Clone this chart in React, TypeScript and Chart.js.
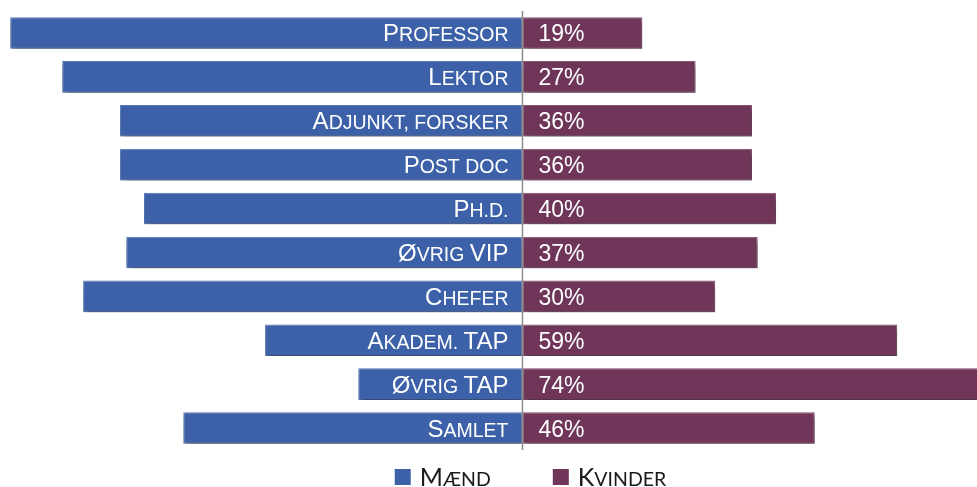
import { useEffect, useRef } from "react";
import { Chart, registerables } from "chart.js";

Chart.register(...registerables);

const categories = [
  "Professor",
  "Lektor",
  "Adjunkt, forsker",
  "Post doc",
  "Ph.d.",
  "Øvrig VIP",
  "Chefer",
  "Akadem. TAP",
  "Øvrig TAP",
  "Samlet",
];
const menShare = [80.8, 72.6, 63.5, 63.5, 59.7, 62.5, 69.3, 40.6, 25.9, 53.5];
const womenShare = [18.9, 27.3, 36.2, 36.2, 40.0, 37.1, 30.4, 59.1, 74, 46.1];
const womenLabels = ["19%", "27%", "36%", "36%", "40%", "37%", "30%", "59%", "74%", "46%"];
const seriesNames = ["Mænd", "Kvinder"];
const seriesColors = ["#3C61A8", "#70365A"];
const seriesBorders = ["#5C7CBA", "#8A5575"];

const LABEL_FONT = "'Liberation Sans', Arial, sans-serif";
const LEGEND_FONT = "Lato, 'Open Sans', sans-serif";

type Run = { t: string; size: number };

function toRuns(text: string, big: number, small: number): Run[] {
  const runs: Run[] = [];
  for (const ch of text) {
    const isUpper = ch !== ch.toLowerCase();
    const size = isUpper ? big : small;
    const t = isUpper ? ch : ch.toUpperCase();
    const last = runs[runs.length - 1];
    if (last && last.size === size) last.t += t;
    else runs.push({ t, size });
  }
  return runs;
}

function measureSmallCaps(
  ctx: CanvasRenderingContext2D,
  text: string,
  big: number,
  small: number,
  family: string
) {
  return toRuns(text, big, small).reduce((acc, r) => {
    ctx.font = `${r.size}px ${family}`;
    return acc + ctx.measureText(r.t).width;
  }, 0);
}

function drawSmallCaps(
  ctx: CanvasRenderingContext2D,
  text: string,
  x: number,
  y: number,
  align: "left" | "right",
  big: number,
  small: number,
  family: string,
  color: string
) {
  const runs = toRuns(text, big, small);
  const widths = runs.map((r) => {
    ctx.font = `${r.size}px ${family}`;
    return ctx.measureText(r.t).width;
  });
  const total = widths.reduce((a, b) => a + b, 0);
  let cx = align === "right" ? x - total : x;
  ctx.fillStyle = color;
  ctx.textAlign = "left";
  ctx.textBaseline = "alphabetic";
  runs.forEach((r, i) => {
    ctx.font = `${r.size}px ${family}`;
    ctx.fillText(r.t, cx, y);
    cx += widths[i];
  });
  return total;
}

const shadowPlugin = {
  id: "barShadow",
  beforeDatasetDraw(chart: any) {
    const ctx = chart.ctx;
    ctx.save();
    ctx.shadowColor = "rgba(0,0,0,0.45)";
    ctx.shadowBlur = 6;
    ctx.shadowOffsetX = 2;
    ctx.shadowOffsetY = 4;
  },
  afterDatasetDraw(chart: any) {
    chart.ctx.restore();
  },
};

const overlayPlugin = {
  id: "overlay",
  afterDatasetsDraw(chart: any) {
    const ctx: CanvasRenderingContext2D = chart.ctx;
    const xs = chart.scales.x;
    const area = chart.chartArea;
    const zero = xs.getPixelForValue(0);
    ctx.save();
    // zero axis line
    ctx.strokeStyle = "#8C8C8C";
    ctx.lineWidth = 1.5;
    ctx.beginPath();
    ctx.moveTo(zero, area.top);
    ctx.lineTo(zero, area.bottom);
    ctx.stroke();

    // labels in the bars
    const menMeta = chart.getDatasetMeta(0);
    const womenMeta = chart.getDatasetMeta(1);
    categories.forEach((cat, i) => {
      const bar = menMeta.data[i];
      drawSmallCaps(ctx, cat, zero - 14, bar.y + 8.5, "right", 24, 19.5, LABEL_FONT, "#FFFFFF");
      const wb = womenMeta.data[i];
      ctx.font = `23px ${LABEL_FONT}`;
      ctx.fillStyle = "#FFFFFF";
      ctx.textAlign = "left";
      ctx.textBaseline = "alphabetic";
      ctx.fillText(womenLabels[i], zero + 16, wb.y + 8.5);
    });

    // legend
    const box = 16;
    const gapBoxText = 9;
    const gapItems = 62;
    const big = 25;
    const small = 19.5;
    const widths = seriesNames.map((n) => measureSmallCaps(ctx, n, big, small, LEGEND_FONT));
    const total =
      widths.reduce((a, b) => a + b, 0) + seriesNames.length * (box + gapBoxText) + gapItems;
    let lx = zero + 8 - total / 2;
    const ly = 477;
    seriesNames.forEach((n, i) => {
      ctx.fillStyle = seriesColors[i];
      ctx.fillRect(lx, ly - box / 2, box, box);
      lx += box + gapBoxText;
      drawSmallCaps(ctx, n, lx, ly + 9, "left", big, small, LEGEND_FONT, "#1A1A1A");
      lx += widths[i] + gapItems;
    });
    ctx.restore();
  },
};

export default function App() {
  const canvasRef = useRef<HTMLCanvasElement | null>(null);

  useEffect(() => {
    if (!canvasRef.current) return;
    const chart = new Chart(canvasRef.current, {
      type: "bar",
      data: {
        labels: categories,
        datasets: [
          {
            label: seriesNames[0],
            data: menShare.map((v) => -v),
            backgroundColor: seriesColors[0],
            borderColor: seriesBorders[0],
            borderWidth: 1,
            borderSkipped: false,
            barPercentage: 0.72,
            categoryPercentage: 1,
            clip: false as any,
          },
          {
            label: seriesNames[1],
            data: womenShare,
            backgroundColor: seriesColors[1],
            borderColor: seriesBorders[1],
            borderWidth: 1,
            borderSkipped: false,
            barPercentage: 0.72,
            categoryPercentage: 1,
            clip: false as any,
          },
        ],
      },
      options: {
        indexAxis: "y",
        animation: false,
        responsive: true,
        maintainAspectRatio: false,
        layout: { padding: { top: 11, bottom: 37, left: 0, right: 0 } },
        scales: {
          x: { display: false, stacked: true, min: -82.41, max: 71.69 },
          y: { display: false, stacked: true },
        },
        plugins: {
          legend: { display: false },
          tooltip: { enabled: false },
        },
      },
      plugins: [shadowPlugin, overlayPlugin],
    });
    return () => chart.destroy();
  }, []);

  return (
    <div style={{ position: "absolute", left: 0, top: 0, width: 977, height: 487, background: "#FFFFFF" }}>
      <canvas ref={canvasRef} />
    </div>
  );
}
